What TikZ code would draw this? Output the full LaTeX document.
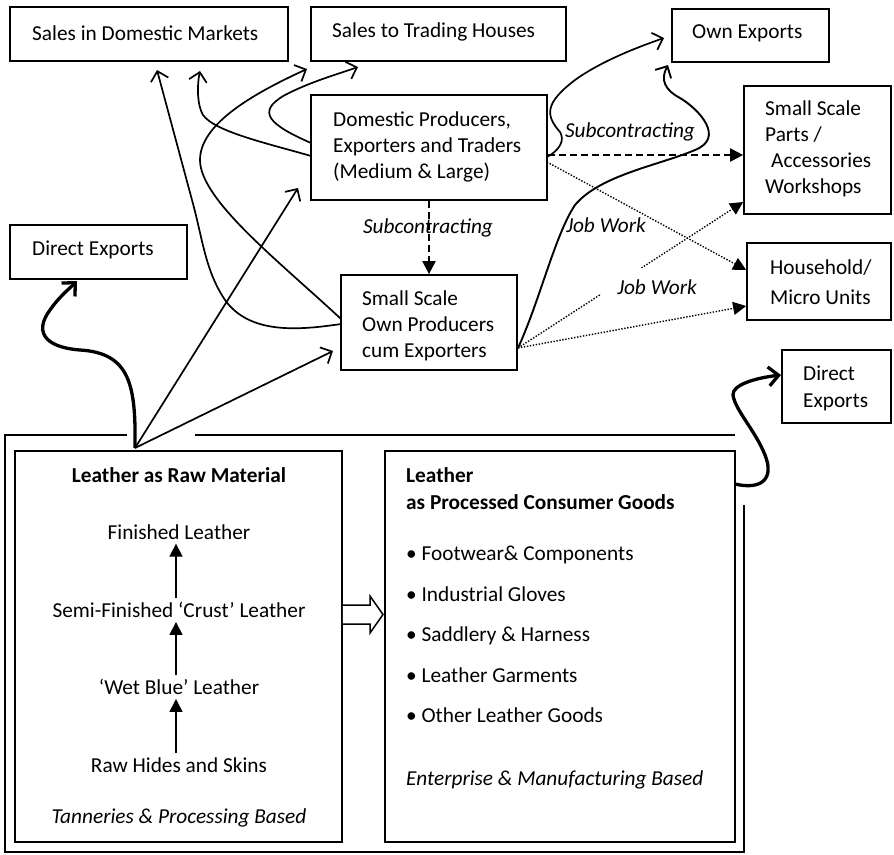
\documentclass[tikz,border=0pt]{standalone}
\usepackage{fontspec}
\setmainfont{Carlito}
\usetikzlibrary{arrows.meta}
\begin{document}
\begin{tikzpicture}[x=1pt,y=-1pt,
  font=\fontsize{21.3}{26}\selectfont,
  box/.style={draw, line width=1.7pt, inner sep=0pt},
  txt/.style={anchor=west, align=left, inner sep=0pt},
  bul/.style={anchor=base west, inner sep=0pt},
  lbl/.style={font=\fontsize{21.3}{26}\selectfont\itshape, inner sep=1pt},
  step txt/.style={inner sep=4pt},
  barb/.style={-{Straight Barb[length=9pt,width=18pt]}, line width=1.7pt},
  heavybarb/.style={-{Straight Barb[length=10pt,width=19pt]}, line width=3.3pt},
  tri/.style={-{Triangle[length=13pt,width=13pt]}},
  dashline/.style={tri, line width=2pt, dash pattern=on 7pt off 4pt},
  dotline/.style={tri, line width=1.4pt, dash pattern=on 1.4pt off 1.6pt},
]
\useasboundingbox (0,0) rectangle (894,854);

% ---- boxes ----
\node[box, minimum width=278pt, minimum height=54pt] (sdm) at (149,34) {};
\node[box, minimum width=255pt, minimum height=54pt] (sth) at (438.5,34) {};
\node[box, minimum width=157pt, minimum height=53pt] (own) at (750.5,35.5) {};
\node[box, minimum width=236pt, minimum height=105pt] (dom) at (429,147.5) {};
\node[box, minimum width=147pt, minimum height=128pt] (parts) at (817.5,150) {};
\node[box, minimum width=144pt, minimum height=77pt] (house) at (819,281.5) {};
\node[box, minimum width=177pt, minimum height=54pt] (dexl) at (98.5,252) {};
\node[box, minimum width=176pt, minimum height=95pt] (ssown) at (429,322.5) {};
\node[box, minimum width=109pt, minimum height=73pt] (dexr) at (836.5,386.5) {};
\node[box, minimum width=327pt, minimum height=391pt] (raw) at (178.5,646.5) {};
\node[box, minimum width=350pt, minimum height=391pt] (proc) at (560,646.5) {};

% ---- outer frame ----
\draw[line width=1.7pt] (127,435) -- (5,435) -- (5,852) -- (744,852) -- (744,505);
\draw[line width=1.7pt] (195,435) -- (735,435);

% ---- box texts ----
\node[txt] (sdmT) at (32,33) {Sales in Domestic Markets};
\node[txt] (sthT) at (332,32) {Sales to Trading Houses};
\node[txt] (ownT) at (692,33) {Own Exports};
\node[txt] (domT) at (333,146.5) {Domestic Producers,\\Exporters and Traders\\(Medium \& Large)};
\node[txt] (partsT) at (765,149) {Small Scale\\Parts /\\\hspace*{6pt}Accessories\\Workshops};
\node[txt, font=\fontsize{21.3}{30}\selectfont] (houseT) at (770,282) {Household/\\Micro Units};
\node[txt, font=\fontsize{21.3}{27}\selectfont] (dexrT) at (803,388.5) {Direct\\Exports};
\node[txt] (dexlT) at (32,250) {Direct Exports};
\node[txt] (ssownT) at (362,326) {Small Scale\\Own Producers\\cum Exporters};

% ---- raw material box ----
\node (rawH) at (179,475) {\bfseries Leather as Raw Material};
\node[step txt] (fin) at (179,532) {Finished Leather};
\node[step txt] (semi) at (179,610) {Semi-Finished ‘Crust’ Leather};
\node[step txt] (wet) at (179,687) {‘Wet Blue’ Leather};
\node[step txt] (rawh) at (179,765) {Raw Hides and Skins};
\node (rawF) at (179,818) {\itshape Tanneries \& Processing Based};
\draw[tri, line width=1.7pt] ([xshift=-3pt]semi.north) -- ([xshift=-3pt]fin.south);
\draw[tri, line width=1.7pt] ([xshift=-3pt]wet.north) -- ([xshift=-3pt]semi.south);
\draw[tri, line width=1.7pt] ([xshift=-3pt]rawh.north) -- ([xshift=-3pt]wet.south);

% ---- processed goods box ----
\node[txt] (procH1) at (406,475) {\bfseries Leather};
\node[txt] (procH2) at (406,502) {\bfseries as Processed Consumer Goods};
\node[bul] (b1) at (406,560) {\textbullet\ Footwear\& Components};
\node[bul] (b2) at (406,601) {\textbullet\ Industrial Gloves};
\node[bul] (b3) at (406,641) {\textbullet\ Saddlery \& Harness};
\node[bul] (b4) at (406,682) {\textbullet\ Leather Garments};
\node[bul] (b5) at (406,722) {\textbullet\ Other Leather Goods};
\node[bul] (procF) at (406,785) {\itshape Enterprise \& Manufacturing Based};

% hollow block arrow between the two boxes
\draw[line width=1.5pt, fill=white] (raw.east |- 0,605) -- (370,605) -- (370,596) -- (383,614.5) -- (370,633) -- (370,624) -- (raw.east |- 0,624);

% ---- coordinates ----
\coordinate (src) at (135,448);
\coordinate (tDexl) at (77,281);
\coordinate (tDom) at (298,188);
\coordinate (tSs) at (333,351);
\coordinate (ssW1) at (341,324);
\coordinate (ssW2) at (341,319);
\coordinate (ssE) at (518,348);
\coordinate (tSdm1) at (157,70);
\coordinate (tSdm2) at (200,71);
\coordinate (tSth1) at (307,69);
\coordinate (tSth2) at (358,67);
\coordinate (domW1) at (311,156);
\coordinate (domW2) at (311,143);
\coordinate (domE1) at (547,157);
\coordinate (domE2) at (547,162);
\coordinate (tOwn1) at (664,38);
\coordinate (tOwn2) at (668,65);
\coordinate (procE) at (735,484);
\coordinate (tDexr) at (781,375);

% ---- connectors from raw material ----
\draw[heavybarb] (src) .. controls (136,385) and (130,353) .. (80,350)
   .. controls (42,347) and (35,330) .. (50,310)
   .. controls (58,298) and (70,288) .. (tDexl);
\draw[barb] (src) -- (tDom);
\draw[barb] (src) -- (tSs);

% ---- small scale own producers ----
\draw[barb] (ssW1) .. controls (300,330) and (250,335) .. (225,300)
   .. controls (205,270) and (203,240) .. (192,200) -- (tSdm1);
\draw[barb] (ssW2) .. controls (280,262) and (200,200) .. (200,160)
   .. controls (200,125) and (250,95) .. (tSth1);
\draw[barb, line width=1.9pt] (ssE) .. controls (540,300) and (555,235) .. (575,205)
   .. controls (600,175) and (660,165) .. (695,150)
   .. controls (725,138) and (700,110) .. (680,98)
   .. controls (665,90) and (660,80) .. (tOwn2);
\draw[dotline] (ssE) -- (parts.west |- 0,202);
\draw[dotline] (ssE) -- (house.west |- 0,306);

% ---- domestic producers ----
\draw[barb] (domW1) .. controls (270,144) and (215,132) .. (203,115)
   .. controls (197,105) and (197,85) .. (tSdm2);
\draw[barb] (domW2) .. controls (270,125) and (255,112) .. (285,95)
   .. controls (310,82) and (335,75) .. (tSth2);
\draw[barb] (domE1) .. controls (560,150) and (565,140) .. (560,132)
   .. controls (545,115) and (545,103) .. (575,80)
   .. controls (600,62) and (635,48) .. (tOwn1);
\draw[dashline] (dom.east |- 0,155) -- (parts.west |- 0,155);
\draw[dotline] (domE2) -- (house.west |- 0,270);
\draw[dashline] (dom.south) -- (ssown.north);

% ---- processed goods to direct exports ----
\draw[heavybarb] (procE) .. controls (760,490) and (775,480) .. (765,455)
   .. controls (755,430) and (735,410) .. (733,395)
   .. controls (732,385) and (755,378) .. (tDexr);

% ---- labels ----
\node[lbl] (sub1) at (428,228) {Subcontracting};
\node[lbl, fill=white, inner sep=2pt] (sub2) at (630,132) {Subcontracting};
\node[lbl] (job1) at (606,225) {Job Work};
\node[lbl, fill=white, inner xsep=16pt, inner ysep=12pt] (job2) at (657,287) {Job Work};
\end{tikzpicture}
\end{document}
